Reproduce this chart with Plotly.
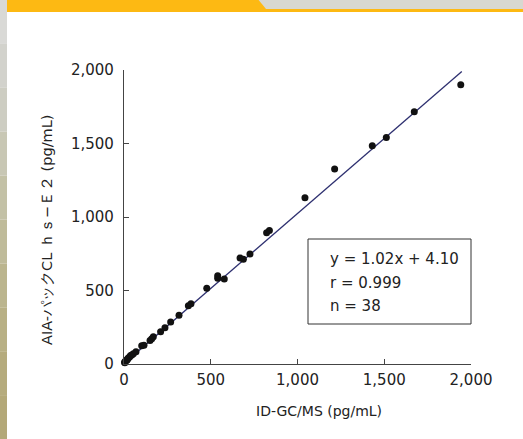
import plotly.graph_objects as go

# Data
idgcms = [3, 5, 8, 12, 18, 20, 25, 32, 38, 45, 54, 69, 102, 115, 150, 160, 169,
          211, 236, 269, 317, 371, 386, 477, 540, 540, 578, 669, 688, 726, 822,
          838, 1043, 1214, 1431, 1512, 1673, 1941]
aia = [12, 8, 18, 24, 28, 34, 40, 48, 57, 62, 70, 84, 125, 127, 160, 172, 186,
       220, 247, 286, 331, 397, 410, 515, 583, 601, 578, 721, 712, 748, 893,
       909, 1131, 1327, 1485, 1540, 1716, 1900]
fit_x = [0, 1947]
slope, intercept = 1.02, 4.10
fit_y = [slope * v + intercept for v in fit_x]
tick_vals = [0, 500, 1000, 1500, 2000]
stats_lines = ["y = 1.02x + 4.10", "r = 0.999", "n = 38"]

W, H = 523, 439
L, R, T, B = 124, 471, 70, 364


def px(x):
    return (x - L) / (R - L)


def py(y):
    return (B - y) / (B - T)


FONT = "DejaVu Sans"

fig = go.Figure()
fig.add_trace(go.Scatter(x=fit_x, y=fit_y, mode="lines",
                         line=dict(color="#2e3070", width=1.3),
                         hoverinfo="skip", cliponaxis=False))
fig.add_trace(go.Scatter(x=idgcms, y=aia, mode="markers",
                         marker=dict(color="#111111", size=7),
                         cliponaxis=False))

shapes = []
# left decorative strip (gradient approximation)
strip_cols = ["#d9d9d6", "#d2d2cc", "#cdcdc2", "#c8c7b4", "#c3c1a6",
              "#bfbb9a", "#bbb58e", "#b8b085", "#b5ab7d", "#b3a878"]
n = len(strip_cols)
for i, c in enumerate(strip_cols):
    y0 = H * i / n
    y1 = H * (i + 1) / n
    shapes.append(dict(type="rect", xref="paper", yref="paper",
                       x0=px(0), x1=px(7), y0=py(y1), y1=py(y0),
                       fillcolor=c, line=dict(width=0), layer="below"))
# top banner
shapes.append(dict(type="rect", xref="paper", yref="paper",
                   x0=px(7), x1=px(W), y0=py(12), y1=py(-2),
                   fillcolor="#fdb913", line=dict(width=0), layer="below"))
shapes.append(dict(type="path", xref="paper", yref="paper",
                   path=f"M {px(257)} {py(-2)} L {px(266)} {py(9)} L {px(W)} {py(9)} L {px(W)} {py(-2)} Z",
                   fillcolor="#d8d8d0", line=dict(width=0), layer="below"))
# stats box
shapes.append(dict(type="rect", xref="paper", yref="paper",
                   x0=px(308), x1=px(471), y0=py(324), y1=py(239),
                   fillcolor="white", line=dict(color="#333333", width=1)))

annotations = []
for i, t in enumerate(stats_lines):
    annotations.append(dict(xref="paper", yref="paper", x=px(328),
                            y=py(259 + 23.5 * i), text=t, showarrow=False,
                            xanchor="left", yanchor="middle",
                            font=dict(family=FONT, size=15, color="#222222")))
annotations.append(dict(xref="paper", yref="paper", x=px(47), y=py(230),
                        text="AIA-パックCL ｈｓ−Ｅ２ (pg/mL)", textangle=-90,
                        showarrow=False, xanchor="center", yanchor="middle",
                        font=dict(family=FONT, size=14.5, color="#222222")))
annotations.append(dict(xref="paper", yref="paper", x=px(319), y=py(411),
                        text="ID-GC/MS (pg/mL)", showarrow=False,
                        xanchor="center", yanchor="middle",
                        font=dict(family=FONT, size=14, color="#222222")))

axis_common = dict(range=[0, 2000], tickvals=tick_vals, tickformat=",",
                   ticks="inside", ticklen=5, tickcolor="#444444",
                   showline=True, linecolor="#444444", linewidth=1.2,
                   showgrid=False, zeroline=False,
                   tickfont=dict(family=FONT, size=15, color="#222222"))

fig.update_layout(
    width=W, height=H,
    margin=dict(l=L, r=W - R, t=T, b=H - B),
    paper_bgcolor="white", plot_bgcolor="white",
    showlegend=False,
    xaxis=dict(**axis_common, ticklabelstandoff=2),
    yaxis=dict(**axis_common, ticklabelstandoff=6),
    shapes=shapes,
    annotations=annotations,
)

fig.write_html("out.html",
               config={"displayModeBar": False},
               post_script="document.body.style.margin='0';document.body.style.overflow='hidden';")
